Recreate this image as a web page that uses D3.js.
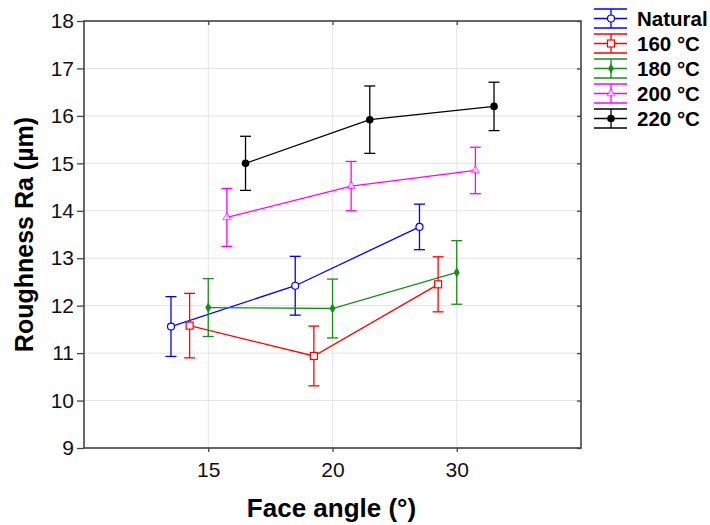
<!DOCTYPE html>
<html>
<head>
<meta charset="utf-8">
<script src="https://cdn.jsdelivr.net/npm/d3@7"></script>
<style>
  body { margin: 0; background: #fff; }
  svg { display: block; font-family: "Liberation Sans", Arial, sans-serif; }
</style>
</head>
<body>
<svg id="chart" width="710" height="525"></svg>
<script>
// face angle categories and series
const categories = ['15', '20', '30'];
const seriesNames = ['Natural', '160 °C', '180 °C', '200 °C', '220 °C'];
const yTicks = [9, 10, 11, 12, 13, 14, 15, 16, 17, 18];

// mean roughness and error half-width, one array per series
const naturalMean = [11.56, 12.42, 13.66];
const naturalErr = [0.63, 0.62, 0.48];
const t160Mean = [11.58, 10.94, 12.45];
const t160Err = [0.68, 0.63, 0.58];
const t180Mean = [11.96, 11.94, 12.70];
const t180Err = [0.61, 0.62, 0.67];
const t200Mean = [13.86, 14.52, 14.85];
const t200Err = [0.61, 0.52, 0.49];
const t220Mean = [15.00, 15.92, 16.20];
const t220Err = [0.57, 0.71, 0.51];

const means = [naturalMean, t160Mean, t180Mean, t200Mean, t220Mean];
const errs = [naturalErr, t160Err, t180Err, t200Err, t220Err];
const colors = ['#0000ff', '#ff0000', '#1a8c1a', '#ff00ff', '#000000'];
const markers = ['circle', 'square', 'diamond', 'triangle', 'dot'];
const dodge = [-0.3, -0.15, 0, 0.15, 0.3];

const svg = d3.select('#chart');
const plotLeft = 84, plotRight = 581, plotTop = 21, plotBottom = 448;

const x = d3.scalePoint()
    .domain(categories)
    .range([plotLeft, plotRight])
    .padding(1);

const y = d3.scaleLinear()
    .domain([9, 18])
    .range([plotBottom, plotTop]);

// grid
svg.append('g')
    .selectAll('line')
    .data(yTicks)
    .enter().append('line')
    .attr('x1', plotLeft).attr('x2', plotRight)
    .attr('y1', d => y(d)).attr('y2', d => y(d))
    .attr('stroke', '#e4e4e4')
    .attr('stroke-width', 1);

svg.append('g')
    .selectAll('line')
    .data(categories)
    .enter().append('line')
    .attr('x1', d => x(d)).attr('x2', d => x(d))
    .attr('y1', plotTop).attr('y2', plotBottom)
    .attr('stroke', '#e4e4e4')
    .attr('stroke-width', 1);

// axes
const yAxis = svg.append('g')
    .attr('transform', `translate(${plotLeft},0)`)
    .call(d3.axisLeft(y).tickValues(yTicks).tickSize(7).tickPadding(3));
yAxis.selectAll('text').attr('font-size', 21).attr('fill', '#111')
    .attr('font-family', '"Liberation Sans", Arial, sans-serif');

const yRight = svg.append('g')
    .attr('transform', `translate(${plotRight},0)`)
    .call(d3.axisRight(y).tickValues(yTicks).tickSize(-4).tickFormat(''));

const xAxis = svg.append('g')
    .attr('transform', `translate(0,${plotBottom})`)
    .call(d3.axisBottom(x).tickSize(4).tickPadding(10));
xAxis.selectAll('text').attr('font-size', 21).attr('fill', '#111')
    .attr('font-family', '"Liberation Sans", Arial, sans-serif');

const xTop = svg.append('g')
    .attr('transform', `translate(0,${plotTop})`)
    .call(d3.axisTop(x).tickSize(-4).tickFormat(''));

[yAxis, yRight, xAxis, xTop].forEach(g => {
    g.select('.domain').remove();
    g.selectAll('line').attr('stroke', '#444').attr('stroke-width', 1.3);
});

// frame
svg.append('rect')
    .attr('x', plotLeft).attr('y', plotTop)
    .attr('width', plotRight - plotLeft).attr('height', plotBottom - plotTop)
    .attr('fill', 'none')
    .attr('stroke', '#444')
    .attr('stroke-width', 1.6);

// axis titles
svg.append('text')
    .attr('x', (plotLeft + plotRight) / 2 - 1)
    .attr('y', 517)
    .attr('text-anchor', 'middle')
    .attr('font-size', 26)
    .attr('font-weight', 'bold')
    .text('Face angle (°)');

svg.append('text')
    .attr('transform', `translate(33,${(plotTop + plotBottom) / 2}) rotate(-90)`)
    .attr('text-anchor', 'middle')
    .attr('font-size', 25)
    .attr('font-weight', 'bold')
    .text('Roughness Ra (µm)');

function drawMarker(g, type, color, cx, cy) {
    if (type === 'circle') {
        g.append('circle').attr('cx', cx).attr('cy', cy).attr('r', 3.5)
            .attr('fill', '#fff').attr('stroke', color).attr('stroke-width', 1.2);
    } else if (type === 'square') {
        g.append('rect').attr('x', cx - 3.5).attr('y', cy - 3.5)
            .attr('width', 7).attr('height', 7)
            .attr('fill', '#fff').attr('stroke', color).attr('stroke-width', 1.2);
    } else if (type === 'diamond') {
        g.append('path')
            .attr('d', d3.symbol(d3.symbolDiamond, 30)())
            .attr('transform', `translate(${cx},${cy})`)
            .attr('fill', color);
    } else if (type === 'triangle') {
        g.append('path')
            .attr('d', d3.symbol(d3.symbolTriangle, 28)())
            .attr('transform', `translate(${cx},${cy})`)
            .attr('fill', '#fff').attr('stroke', color).attr('stroke-width', 1)
            .attr('opacity', 0.7);
    } else {
        g.append('circle').attr('cx', cx).attr('cy', cy).attr('r', 3.8)
            .attr('fill', color);
    }
}

const capHalf = 5.5;
const step = x.step();

seriesNames.forEach((name, s) => {
    const g = svg.append('g');
    const pts = categories.map((c, i) => ({
        px: x(c) + dodge[s] * step,
        m: means[s][i],
        e: errs[s][i]
    }));

    g.append('path')
        .datum(pts)
        .attr('d', d3.line().x(d => d.px).y(d => y(d.m)))
        .attr('fill', 'none')
        .attr('stroke', colors[s])
        .attr('stroke-width', 1.3);

    pts.forEach(d => {
        const y1 = y(d.m + d.e), y2 = y(d.m - d.e);
        g.append('line').attr('x1', d.px).attr('x2', d.px).attr('y1', y1).attr('y2', y2)
            .attr('stroke', colors[s]).attr('stroke-width', 1.3);
        [y1, y2].forEach(yy => {
            g.append('line').attr('x1', d.px - capHalf).attr('x2', d.px + capHalf)
                .attr('y1', yy).attr('y2', yy)
                .attr('stroke', colors[s]).attr('stroke-width', 1.3);
        });
        drawMarker(g, markers[s], colors[s], d.px, y(d.m));
    });
});

// legend
const legend = svg.append('g');
seriesNames.forEach((name, s) => {
    const ly = 18.5 + s * 25;
    const g = legend.append('g');
    [ly - 9.5, ly, ly + 9.5].forEach(yy => {
        g.append('line').attr('x1', 594).attr('x2', 627).attr('y1', yy).attr('y2', yy)
            .attr('stroke', colors[s]).attr('stroke-width', 1.3);
    });
    g.append('line').attr('x1', 611).attr('x2', 611).attr('y1', ly - 9.5).attr('y2', ly + 9.5)
        .attr('stroke', colors[s]).attr('stroke-width', 1.3);
    drawMarker(g, markers[s], colors[s], 611, ly);
    g.append('text')
        .attr('x', 637)
        .attr('y', ly + 7.5)
        .attr('font-size', 20.5)
        .attr('font-weight', 'bold')
        .text(name);
});
</script>
</body>
</html>
